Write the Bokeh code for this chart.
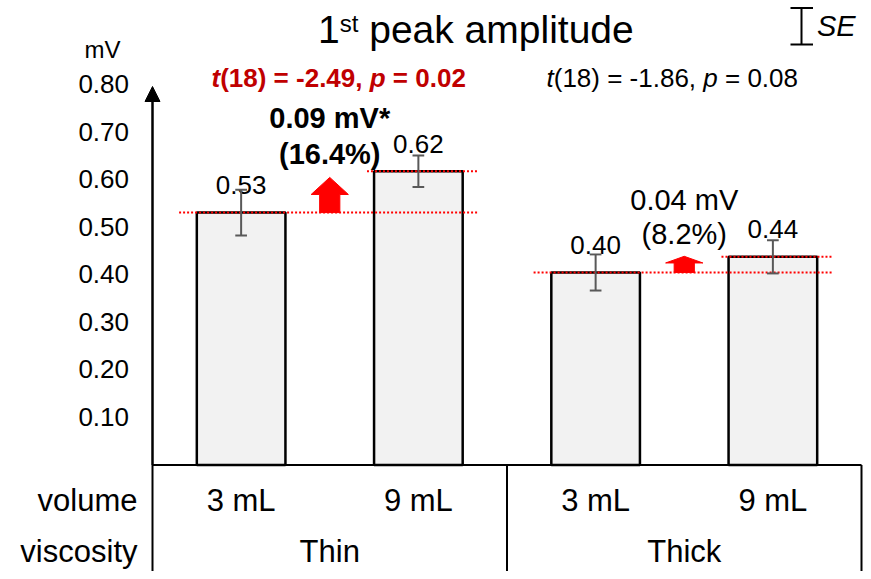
from bokeh.plotting import figure
from bokeh.models import Range1d, Arrow, NormalHead
from bokeh.core.properties import value
from bokeh.embed import file_html
from bokeh.resources import INLINE

# ---------------- data ----------------
viscosity = ["Thin", "Thick"]
volume = ["3 mL", "9 mL", "3 mL", "9 mL"]
means = [0.531, 0.618, 0.405, 0.438]
mean_labels = ["0.53", "0.62", "0.40", "0.44"]
se = [0.048, 0.033, 0.038, 0.035]
y_ticks = [0.10, 0.20, 0.30, 0.40, 0.50, 0.60, 0.70, 0.80]
y_tick_labels = ["0.10", "0.20", "0.30", "0.40", "0.50", "0.60", "0.70", "0.80"]
diff_line1 = ["0.09 mV*", "0.04 mV"]
diff_line2 = ["(16.4%)", "(8.2%)"]
diff_bold = [True, False]
arrow_neck = [0.569, 0.425]
arrow_tip = [0.605, 0.439]
stat_t = ["(18) = -2.49, ", "(18) = -1.86, "]
stat_p = [" = 0.02", " = 0.08"]
stat_sig = [True, False]

# ---------------- layout constants (pixels) ----------------
W, H = 863, 571
X0_REF, CAT_PX = 152.0, 177.25      # px of x=0, px per category
Y0_REF, UNIT_PX = 464.5, 475.4      # px of y=0, px per mV
FONT = "Liberation Sans"
K = 0.38                            # baseline correction (em) of the svg text rendering


def xd(rx):
    return (rx - X0_REF) / CAT_PX


def yd(ry):
    return (Y0_REF - ry) / UNIT_PX


def ty(ry, size):
    """data y for a text whose alphabetic baseline should sit at pixel row ry"""
    return yd(ry - K * size)


REG = {' ': 278, '(': 333, ')': 333, '=': 584, '-': 333, '.': 278, ',': 278,
       't': 278, 'p': 556, 'm': 833, 'V': 667, 'L': 556, '*': 389, '%': 889,
       's': 500, 'e': 556, 'a': 556, 'k': 500, 'l': 222, 'i': 222, 'u': 556,
       'd': 556, 'S': 667, 'E': 667}
BOLD = dict(REG)
BOLD.update({'t': 333, 'p': 611, 'm': 889})
for ch in "0123456789":
    REG[ch] = 556
    BOLD[ch] = 556


def tw(s, size, bold=False):
    tab = BOLD if bold else REG
    return sum(tab.get(c, 556) for c in s) / 1000.0 * size


p = figure(width=W, height=H, title=None,
           x_range=Range1d(xd(0), xd(W)), y_range=Range1d(yd(H), yd(0)),
           x_axis_type=None, y_axis_type=None, min_border=0,
           outline_line_color=None, toolbar_location=None, output_backend="svg")
p.background_fill_color = "white"
p.border_fill_color = "white"

centers = [i + 0.5 for i in range(len(means))]
group_mid = [(centers[2 * g] + centers[2 * g + 1]) / 2 for g in range(len(viscosity))]


def put(x, ry, s, off, size, st, color):
    """Left-aligned text piece; leading blanks become offset (SVG drops them)."""
    bold = "bold" in st
    lead = len(s) - len(s.lstrip(" "))
    off += tw(" " * lead, size, bold)
    s = s.lstrip(" ")
    p.text(x=[x], y=[ty(ry, size)], text=[s], x_offset=off, text_align="left",
           text_baseline="alphabetic", text_font=value(FONT),
           text_font_size=f"{size}px", text_font_style=st, text_color=color)


def seg_text(x, ry, segs, size, color):
    off = 0.0
    for s, st in segs:
        put(x, ry, s, off, size, st, color)
        off += tw(s, size, "bold" in st)


# bars
p.vbar(x=centers, top=means, bottom=0, width=0.5, fill_color="#F2F2F2",
       line_color="black", line_width=2.5)

# table lines and axis base
p.segment(x0=[0], y0=[0], x1=[len(means)], y1=[0], line_color="black", line_width=2)
p.segment(x0=[0, 2, 4], y0=[0, 0, 0], x1=[0, 2, 4], y1=[yd(H)] * 3,
          line_color="black", line_width=2)

# y axis with arrow
p.add_layout(Arrow(end=NormalHead(size=15, fill_color="black", line_color="black", line_width=1),
                   x_start=0, y_start=0, x_end=0, y_end=yd(86),
                   line_color="black", line_width=2.5))

# y tick labels (baseline 9.2 px below the tick value)
p.text(x=[xd(128.5)] * len(y_ticks), y=[t + (K * 26 - 9.2) / UNIT_PX for t in y_ticks],
       text=y_tick_labels, text_align="right", text_baseline="alphabetic",
       text_font=value(FONT), text_font_size="26px", text_color="black")
p.text(x=[xd(102)], y=[ty(58.3, 24)], text=["mV"], text_align="center",
       text_baseline="alphabetic", text_font=value(FONT), text_font_size="24px",
       text_color="black")

# red dotted reference lines and arrows
for g in range(len(viscosity)):
    lo, hi = means[2 * g], means[2 * g + 1]
    c0, c1 = centers[2 * g], centers[2 * g + 1]
    p.segment(x0=[c0 - 0.35, c1 - 0.29], y0=[lo, hi], x1=[c1 + 0.335, c1 + 0.335], y1=[lo, hi],
              line_color="#FF0000", line_width=2, line_dash="2 2")
    xm = group_mid[g]
    sh, hh = 0.057, 0.105
    p.patch(x=[xm - sh, xm + sh, xm + sh, xm + hh, xm, xm - hh, xm - sh],
            y=[lo, lo, arrow_neck[g], arrow_neck[g], arrow_tip[g], arrow_neck[g], arrow_neck[g]],
            fill_color="#FF0000", line_color="#FF0000", line_width=1)

# value labels (baseline 17.5 px above bar top)
p.text(x=centers, y=[m + (17.5 + K * 26) / UNIT_PX for m in means], text=mean_labels,
       text_align="center", text_baseline="alphabetic", text_font=value(FONT),
       text_font_size="26px", text_color="black")

# error bars
lower = [m - s for m, s in zip(means, se)]
upper = [m + s for m, s in zip(means, se)]
cap = 0.033
p.segment(x0=centers, y0=lower, x1=centers, y1=upper, line_color="#595959", line_width=2)
p.segment(x0=[c - cap for c in centers] * 2, y0=lower + upper,
          x1=[c + cap for c in centers] * 2, y1=lower + upper,
          line_color="#595959", line_width=2)

# difference annotations
line1_px = [128.3, 211]
line2_px = [165, 245]
for g in range(len(viscosity)):
    style = "bold" if diff_bold[g] else "normal"
    p.text(x=[group_mid[g]] * 2, y=[ty(line1_px[g], 29), ty(line2_px[g], 29)],
           text=[diff_line1[g], diff_line2[g]], text_align="center",
           text_baseline="alphabetic", text_font=value(FONT), text_font_size="29px",
           text_font_style=style, text_color="black")

# statistics
stat_x = [xd(211), xd(546)]
for g in range(len(viscosity)):
    if stat_sig[g]:
        segs = [("t", "bold italic"), (stat_t[g], "bold"), ("p", "bold italic"), (stat_p[g], "bold")]
        col = "#C00000"
    else:
        segs = [("t", "italic"), (stat_t[g], "normal"), ("p", "italic"), (stat_p[g], "normal")]
        col = "black"
    seg_text(stat_x[g], 87, segs, 26, col)

# title with superscript
tx = xd(317.5)
put(tx, 44.3, "1", 0.0, 39, "normal", "black")
off1 = tw("1", 39)
put(tx, 31.7, "st", off1, 24, "normal", "black")
off2 = off1 + tw("st", 24)
put(tx, 44.3, " peak amplitude", off2, 39, "normal", "black")

# SE legend
p.segment(x0=[xd(801), xd(790), xd(790)], y0=[yd(7.5), yd(7.5), yd(44)],
          x1=[xd(801), xd(812.5), xd(812.5)], y1=[yd(44), yd(7.5), yd(44)],
          line_color="black", line_width=2)
p.text(x=[xd(816.5)], y=[ty(37, 29)], text=["SE"], text_align="left", text_baseline="alphabetic",
       text_font=value(FONT), text_font_size="29px", text_font_style="italic",
       text_color="black")

# table texts
row1, row2 = ty(512, 31), ty(563, 31)
p.text(x=[xd(137)] * 2, y=[row1, row2], text=["volume", "viscosity"],
       text_align="right", text_baseline="alphabetic", text_font=value(FONT),
       text_font_size="31px", text_color="black")
p.text(x=centers, y=[row1] * len(centers), text=volume, text_align="center",
       text_baseline="alphabetic", text_font=value(FONT), text_font_size="31px",
       text_color="black")
p.text(x=group_mid, y=[row2] * len(group_mid), text=viscosity, text_align="center",
       text_baseline="alphabetic", text_font=value(FONT), text_font_size="31px",
       text_color="black")

open("out.html", "w").write(file_html(p, INLINE))
